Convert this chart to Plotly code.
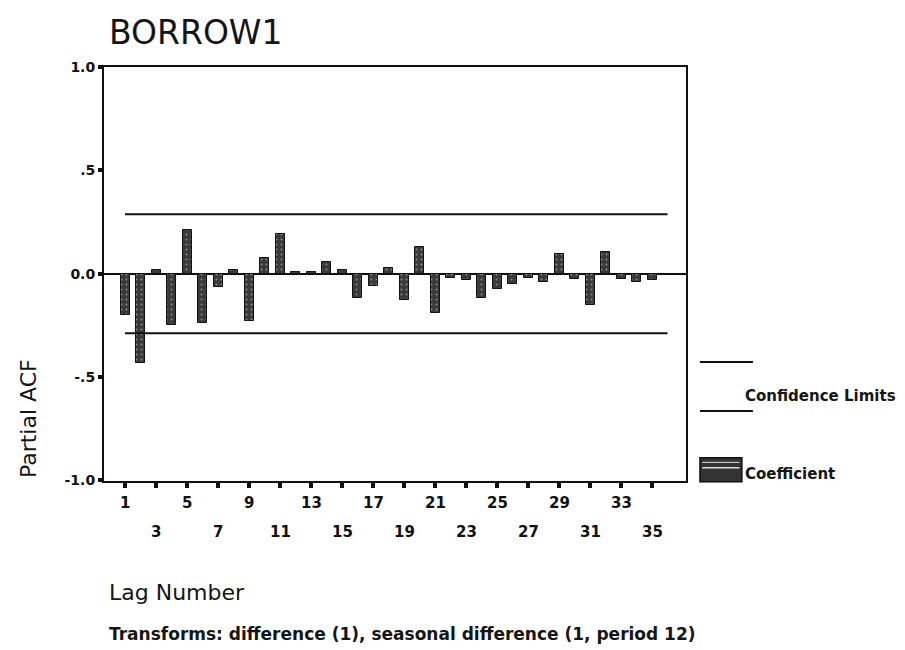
import plotly.graph_objects as go

# ---- data ----
lags = list(range(1, 37))
pacf = [-0.20, -0.43, 0.02, -0.25, 0.21, -0.24, -0.065, 0.02, -0.23, 0.077,
        0.19, 0.01, 0.01, 0.056, 0.018, -0.118, -0.058, 0.027, -0.126, 0.129,
        -0.19, -0.021, -0.03, -0.118, -0.073, -0.048, -0.023, -0.039, 0.097, -0.024,
        -0.153, 0.105, -0.024, -0.042, -0.029, 0.0]
conf_upper = [0.288] * 36
conf_lower = [-0.288] * 36
tick_lags_row1 = [1, 5, 9, 13, 17, 21, 25, 29, 33]
tick_lags_row2 = [3, 7, 11, 15, 19, 23, 27, 31, 35]
ytick_vals = [-1.0, -0.5, 0.0, 0.5, 1.0]
ytick_text = ["-1.0", "-.5", "0.0", ".5", "1.0"]

FONT = "DejaVu Sans"

fig = go.Figure()
fig.add_trace(go.Bar(
    x=lags, y=pacf, width=0.58,
    marker=dict(color="#3a3a3a", line=dict(color="#111", width=1),
                pattern=dict(shape=".", fgcolor="#d8d8d8", bgcolor="#3a3a3a",
                             size=5, solidity=0.12)),
    showlegend=False, hoverinfo="x+y"))
for ci in (conf_upper, conf_lower):
    fig.add_trace(go.Scatter(x=lags, y=ci, mode="lines",
                             line=dict(color="#111", width=2),
                             showlegend=False, hoverinfo="skip"))

annotations = []
for v in tick_lags_row1:
    annotations.append(dict(x=v, y=-0.053, xref="x", yref="paper", text="<b>%d</b>" % v,
                            showarrow=False, xanchor="center", yanchor="middle",
                            font=dict(family=FONT, size=15, color="#111")))
for v in tick_lags_row2:
    annotations.append(dict(x=v, y=-0.123, xref="x", yref="paper", text="<b>%d</b>" % v,
                            showarrow=False, xanchor="center", yanchor="middle",
                            font=dict(family=FONT, size=15, color="#111")))

annotations += [
    dict(x=0.005, y=1.0845, xref="paper", yref="paper", text="BORROW1",
         showarrow=False, xanchor="left", yanchor="middle",
         font=dict(family=FONT, size=33, color="#151515")),
    dict(x=-0.1306, y=0.152, xref="paper", yref="paper", text="Partial ACF",
         showarrow=False, xanchor="center", yanchor="middle", textangle=-90,
         font=dict(family=FONT, size=22, color="#151515")),
    dict(x=0.005, y=-0.2705, xref="paper", yref="paper", text="Lag Number",
         showarrow=False, xanchor="left", yanchor="middle",
         font=dict(family=FONT, size=22, color="#151515")),
    dict(x=0.005, y=-0.3696, xref="paper", yref="paper",
         text="<b>Transforms: difference (1), seasonal difference (1, period 12)</b>",
         showarrow=False, xanchor="left", yanchor="middle",
         font=dict(family=FONT, size=17, color="#151515")),
    dict(x=1.098, y=0.2053, xref="paper", yref="paper", text="<b>Confidence Limits</b>",
         showarrow=False, xanchor="left", yanchor="middle",
         font=dict(family=FONT, size=15, color="#151515")),
    dict(x=1.098, y=0.0169, xref="paper", yref="paper", text="<b>Coefficient</b>",
         showarrow=False, xanchor="left", yanchor="middle",
         font=dict(family=FONT, size=15, color="#151515")),
]

shapes = [
    dict(type="line", xref="paper", yref="paper", x0=1.024, x1=1.115, y0=0.2874, y1=0.2874,
         line=dict(color="#111", width=2)),
    dict(type="line", xref="paper", yref="paper", x0=1.024, x1=1.115, y0=0.169, y1=0.169,
         line=dict(color="#111", width=2)),
    dict(type="rect", xref="paper", yref="paper", x0=1.024, x1=1.096, y0=-0.002, y1=0.056,
         fillcolor="#333", line=dict(color="#111", width=1.5)),
    dict(type="line", xref="paper", yref="paper", x0=1.028, x1=1.092, y0=0.032, y1=0.032,
         line=dict(color="#ddd", width=1.5)),
    dict(type="line", xref="paper", yref="paper", x0=1.028, x1=1.092, y0=0.045, y1=0.045,
         line=dict(color="#ddd", width=1)),
]

fig.update_layout(
    width=905, height=650,
    margin=dict(l=104, r=219, t=67, b=169, pad=0),
    paper_bgcolor="white", plot_bgcolor="white",
    annotations=annotations, shapes=shapes,
    bargap=0,
    xaxis=dict(range=[-0.355, 37.19], tickvals=tick_lags_row1 + tick_lags_row2,
               ticktext=[""] * 18, ticks="outside", ticklen=5, tickwidth=4,
               tickcolor="#111", showline=True, linecolor="#111", linewidth=2,
               mirror=True, showgrid=False, zeroline=False, fixedrange=True),
    yaxis=dict(range=[-1.003, 1.0], tickvals=ytick_vals,
               ticktext=["<b>%s</b>" % t for t in ytick_text],
               ticks="outside", ticklen=4, tickwidth=4, tickcolor="#111",
               showline=True, linecolor="#111", linewidth=2, mirror=True,
               showgrid=False, zeroline=True, zerolinecolor="#111", zerolinewidth=1.5,
               tickfont=dict(family=FONT, size=14, color="#111"), fixedrange=True),
)

fig.write_html("out.html")
